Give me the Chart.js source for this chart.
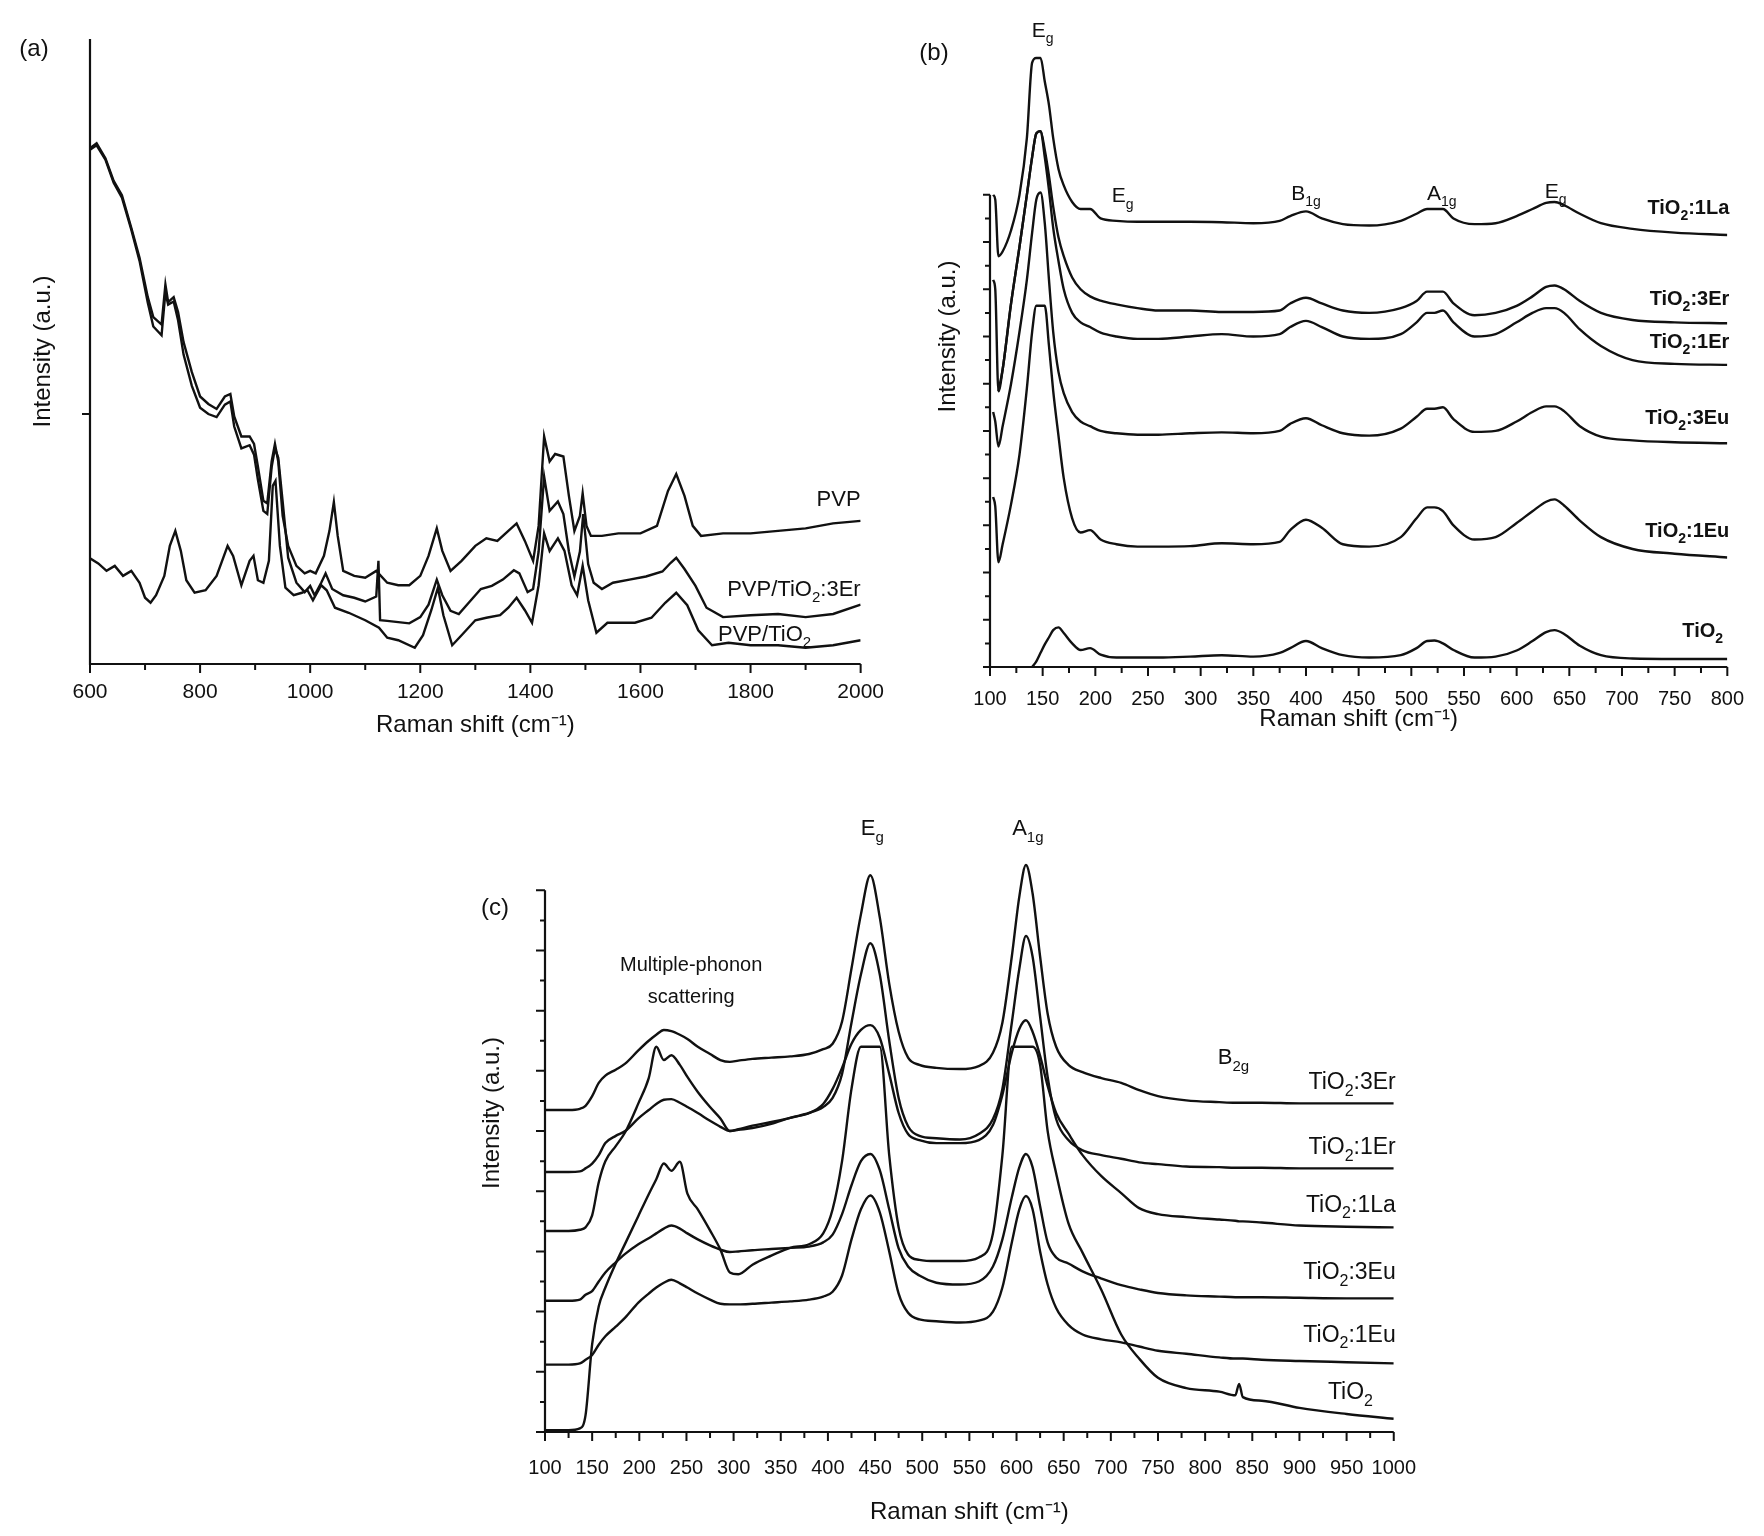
<!DOCTYPE html>
<html lang="en">
<head>
  <meta charset="UTF-8">
  <title>Raman spectra of PVP / TiO2 fibres</title>
  <script src="https://cdn.jsdelivr.net/npm/chart.js"></script>
  <style>
    html, body { margin: 0; padding: 0; background: #fff; }
    body { width: 1764px; height: 1536px; position: relative; overflow: hidden; }
    .panel { position: absolute; }
  </style>
</head>
<body>
  <div class="panel" style="left:0;top:0"><canvas id="chart-a" width="900" height="780"></canvas></div>
  <div class="panel" style="left:880px;top:0"><canvas id="chart-b" width="884" height="780"></canvas></div>
  <div class="panel" style="left:440px;top:780px"><canvas id="chart-c" width="1000" height="756"></canvas></div>

<script>
// ---------- panel (a): PVP and composite fibres, 600-2000 cm-1 ----------
const aPvpX = [600,612,628,643,658,675,690,705,715,730,737,742,752,760,770,785,800,815,830,845,855,862,875,890,898,905,915,922,930,936,942,950,960,975,990,1000,1010,1025,1035,1043,1050,1060,1080,1100,1120,1140,1160,1180,1200,1215,1230,1240,1255,1275,1300,1320,1340,1360,1375,1390,1405,1415,1425,1435,1445,1460,1470,1480,1490,1495,1502,1510,1530,1560,1600,1630,1650,1665,1680,1695,1710,1750,1800,1850,1900,1950,2000];
const aPvpY = [82.5,83.3,80.9,77.3,75.0,69.8,65.0,58.7,55.5,54.3,60.7,57.9,58.7,56.3,51.5,46.7,42.8,41.6,40.8,42.8,43.2,39.6,36.4,36.4,35.2,31.6,26.1,25.7,32.4,35.2,32.4,23.7,18.9,15.7,14.5,14.9,14.5,17.3,21.3,25.9,20.5,14.9,14.1,13.8,14.9,13.0,12.6,12.6,14.1,17.3,21.7,18.1,14.9,16.5,18.9,20.1,19.7,21.3,22.5,19.7,16.5,22.1,36.4,32.4,33.6,33.2,26.9,21.3,23.7,27.3,22.1,20.5,20.5,20.9,20.9,22.1,27.7,30.4,26.9,22.1,20.5,20.9,20.9,21.3,21.7,22.5,22.9];

const a3ErX = [600,612,628,643,658,675,690,705,715,730,737,742,752,760,770,785,800,815,830,845,855,862,875,890,898,905,915,922,930,936,942,950,960,975,990,1000,1008,1020,1028,1040,1060,1080,1100,1120,1124,1127,1140,1160,1180,1200,1215,1230,1240,1255,1270,1290,1310,1330,1350,1370,1380,1395,1405,1415,1425,1435,1450,1460,1470,1480,1490,1496,1505,1515,1530,1550,1580,1610,1640,1655,1665,1680,1700,1720,1750,1800,1850,1900,1950,2000];
const a3ErY = [82.3,83.0,80.7,77.0,74.6,69.5,64.5,57.8,54.0,52.6,59.5,57.5,58.0,55.0,49.5,44.5,41.0,40.0,39.5,41.5,42.0,38.0,34.5,35.0,33.5,29.5,24.5,24.0,31.5,34.5,33.0,26.0,17.0,13.0,11.5,12.5,11.0,13.0,14.5,12.0,11.0,10.6,10.0,10.8,16.5,7.0,6.9,6.7,6.5,7.5,9.5,13.5,11.0,8.5,8.0,10.0,12.0,12.5,13.5,15.0,14.5,11.5,12.0,18.0,30.0,24.5,26.0,24.0,18.0,14.0,18.0,24.0,16.0,13.0,12.0,13.0,13.5,14.0,14.8,16.2,17.0,15.2,12.5,9.0,7.5,7.8,8.0,7.5,8.0,9.5];

const aTio2X = [600,615,630,645,660,675,690,700,710,720,735,745,755,765,775,790,810,830,850,860,875,890,897,905,915,925,932,937,945,955,970,985,995,1005,1020,1030,1045,1070,1100,1125,1140,1160,1190,1205,1220,1232,1242,1258,1275,1300,1320,1345,1360,1375,1390,1403,1415,1425,1435,1450,1462,1475,1485,1495,1505,1520,1540,1560,1590,1620,1645,1665,1685,1705,1730,1760,1800,1850,1900,1950,2000];
const aTio2Y = [16.9,16.1,14.9,15.7,14.1,14.9,13.0,10.6,9.8,11.0,14.1,18.9,21.3,18.1,13.4,11.4,11.8,14.1,18.9,17.3,12.6,16.5,17.3,13.4,13.0,16.5,28.5,29.3,18.9,12.2,11.0,11.4,11.8,10.2,12.6,11.8,9.0,8.2,7.0,5.8,4.2,3.8,2.6,4.6,8.6,12.2,7.8,3.0,4.6,7.0,7.4,7.8,9.0,10.6,8.6,6.6,12.6,20.9,18.1,20.1,18.1,12.6,11.0,15.7,10.2,5.0,6.6,6.6,6.6,7.4,9.8,11.4,9.4,5.4,3.0,3.4,3.0,3.0,2.6,3.0,3.8];

// ---------- panel (b): doped TiO2 fibres, 100-800 cm-1 ----------
const bX = [103,105,108,112,120,128,135,140,144,148,152,156,160,165,170,178,186,195,205,220,240,260,290,320,350,375,385,400,415,435,460,490,505,515,522,530,540,560,580,600,615,628,636,645,660,680,710,750,800];
const b1La = [10.0,9.9,8.7,8.8,9.25,10.0,11.2,12.8,12.9,12.9,12.4,11.9,11.2,10.55,10.2,9.85,9.7,9.7,9.5,9.45,9.43,9.43,9.43,9.42,9.4,9.45,9.55,9.65,9.5,9.38,9.35,9.45,9.6,9.7,9.7,9.7,9.5,9.38,9.4,9.55,9.7,9.83,9.85,9.78,9.6,9.4,9.28,9.2,9.15];
const b3Er = [8.2,8.0,5.84,6.3,7.7,8.9,10.0,10.8,11.3,11.35,10.95,10.4,9.75,9.1,8.7,8.25,8.0,7.85,7.76,7.68,7.6,7.55,7.55,7.52,7.52,7.55,7.7,7.82,7.7,7.55,7.5,7.6,7.75,7.95,7.95,7.95,7.7,7.45,7.5,7.65,7.85,8.05,8.08,8.0,7.75,7.5,7.35,7.3,7.28];
const b1Er = [null,null,5.84,6.3,7.7,8.9,10.0,10.8,11.3,11.35,10.8,10.1,9.3,8.6,8.0,7.5,7.3,7.2,7.08,7.0,6.95,6.95,7.0,7.05,7.0,7.05,7.2,7.33,7.2,7.0,6.95,7.05,7.3,7.5,7.5,7.55,7.3,7.0,7.05,7.3,7.5,7.6,7.6,7.5,7.15,6.8,6.5,6.42,6.4];
const b3Eu = [5.4,5.2,4.67,5.1,6.0,7.1,8.2,9.2,9.9,10.05,9.4,8.2,7.1,6.25,5.8,5.4,5.2,5.1,5.0,4.95,4.92,4.92,4.95,4.97,4.95,5.0,5.15,5.27,5.12,4.95,4.9,5.05,5.3,5.47,5.47,5.5,5.25,4.98,5.0,5.2,5.4,5.52,5.52,5.42,5.1,4.88,4.8,4.76,4.74];
const b1Eu = [3.6,3.4,2.22,2.6,3.45,4.5,5.9,7.1,7.65,7.65,7.65,6.8,5.85,4.9,4.0,3.15,2.85,2.9,2.7,2.6,2.55,2.55,2.56,2.62,2.6,2.65,2.9,3.12,2.95,2.6,2.55,2.75,3.15,3.38,3.38,3.3,3.0,2.7,2.75,3.05,3.3,3.5,3.55,3.42,3.1,2.75,2.5,2.4,2.32];
const bTio2 = [null,null,null,null,null,null,null,0.0,0.12,0.3,0.48,0.63,0.78,0.84,0.72,0.5,0.36,0.4,0.26,0.2,0.2,0.2,0.22,0.25,0.22,0.3,0.4,0.55,0.4,0.25,0.2,0.25,0.4,0.55,0.56,0.5,0.36,0.2,0.22,0.35,0.55,0.74,0.78,0.7,0.45,0.25,0.18,0.17,0.17];

// ---------- panel (c): annealed fibres, 100-1000 cm-1 ----------
const cX = [100,125,137,143,150,157,164,175,185,199,210,218,226,234,243,251,262,275,286,296,305,320,340,360,380,395,405,415,425,435,445,455,465,475,485,497,515,540,560,575,585,595,603,610,617,625,633,642,655,670,690,711,730,750,780,815,832,836,840,860,900,950,1000];
const c3Er = [5.35,5.35,5.37,5.42,5.58,5.8,5.92,6.02,6.12,6.34,6.5,6.6,6.68,6.66,6.6,6.53,6.4,6.28,6.18,6.15,6.17,6.2,6.22,6.24,6.28,6.36,6.45,6.82,7.7,8.6,9.25,8.55,7.45,6.65,6.22,6.1,6.05,6.03,6.08,6.3,6.8,7.9,8.9,9.42,8.95,7.9,6.95,6.4,6.1,5.98,5.88,5.8,5.68,5.58,5.51,5.48,5.47,5.47,5.47,5.47,5.46,5.46,5.46];
const c1Er = [4.32,4.32,4.33,4.38,4.46,4.6,4.8,4.92,5.0,5.21,5.35,5.45,5.52,5.53,5.47,5.4,5.3,5.17,5.07,5.0,5.02,5.05,5.12,5.22,5.3,5.4,5.55,5.95,6.8,7.6,8.12,7.6,6.5,5.55,5.08,4.92,4.88,4.86,4.95,5.2,5.7,6.8,7.7,8.24,7.9,6.9,5.9,5.2,4.85,4.68,4.6,4.54,4.48,4.45,4.41,4.4,4.39,4.39,4.39,4.39,4.38,4.38,4.38];
const c1La = [3.34,3.34,3.36,3.4,3.6,4.15,4.5,4.75,4.98,5.46,5.88,6.4,6.18,6.26,6.1,5.9,5.65,5.4,5.21,5.0,5.03,5.09,5.15,5.22,5.3,5.45,5.7,6.05,6.45,6.68,6.76,6.55,5.95,5.3,4.95,4.85,4.8,4.8,4.85,5.1,5.6,6.3,6.7,6.84,6.65,6.25,5.75,5.3,4.96,4.6,4.25,3.97,3.72,3.62,3.57,3.53,3.51,3.5,3.5,3.48,3.43,3.41,3.40];
const c3Eu = [2.18,2.18,2.2,2.28,2.34,2.5,2.65,2.82,2.96,3.12,3.22,3.3,3.38,3.43,3.38,3.3,3.2,3.1,3.03,2.99,3.0,3.02,3.04,3.06,3.08,3.15,3.28,3.62,4.1,4.5,4.62,4.35,3.7,3.05,2.75,2.6,2.48,2.45,2.5,2.75,3.2,3.9,4.4,4.62,4.4,3.75,3.15,2.9,2.8,2.67,2.55,2.44,2.37,2.31,2.27,2.25,2.24,2.24,2.24,2.24,2.23,2.22,2.22];
const c1Eu = [1.12,1.12,1.14,1.2,1.28,1.45,1.59,1.75,1.9,2.15,2.3,2.4,2.48,2.53,2.47,2.4,2.3,2.2,2.13,2.12,2.12,2.13,2.15,2.17,2.2,2.25,2.33,2.6,3.2,3.7,3.93,3.65,3.0,2.3,1.98,1.87,1.84,1.82,1.85,2.0,2.4,3.15,3.7,3.92,3.7,3.0,2.45,2.06,1.78,1.62,1.54,1.49,1.42,1.35,1.3,1.24,1.22,1.22,1.22,1.2,1.18,1.16,1.14];
const cTio2 = [0.03,0.03,0.06,0.28,1.46,2.09,2.4,2.8,3.13,3.59,3.95,4.2,4.46,4.34,4.49,3.96,3.7,3.35,3.03,2.65,2.62,2.78,2.93,3.06,3.12,3.3,3.7,4.5,5.7,6.4,6.4,6.4,4.6,3.4,2.95,2.86,2.84,2.84,2.9,3.3,4.6,6.4,6.4,6.4,6.4,6.1,5.0,4.3,3.47,2.98,2.36,1.62,1.22,0.9,0.73,0.67,0.61,0.8,0.58,0.52,0.4,0.3,0.22];

const FAMILY = "'Liberation Sans', Arial, sans-serif";
const INK = '#111';
Chart.defaults.font.family = FAMILY;
Chart.defaults.color = INK;

// text with sub/superscripts: segs = [[text, ''|'sub'|'sup'], ...]
function richText(ctx, segs, x, yMid, size, align, weight) {
  const fontFor = k => `${weight || 'normal'} ${k ? Math.round(size * 0.68) : size}px ${FAMILY}`;
  let w = 0;
  segs.forEach(([t, k]) => { ctx.font = fontFor(k); w += ctx.measureText(t).width; });
  let cx = align === 'right' ? x - w : align === 'center' ? x - w / 2 : x;
  const base = yMid + size * 0.36;
  ctx.textAlign = 'left';
  ctx.textBaseline = 'alphabetic';
  ctx.fillStyle = INK;
  segs.forEach(([t, k]) => {
    ctx.font = fontFor(k);
    const dy = k === 'sub' ? size * 0.3 : k === 'sup' ? -size * 0.42 : 0;
    ctx.fillText(t, cx, base + dy);
    cx += ctx.measureText(t).width;
  });
}
const tio = s => [['TiO', ''], ['2', 'sub'], [s, '']];

// axis lines, tick marks and annotations, all placed through the chart's scales
function makeAxes(cfg) {
  return {
    id: 'ramanAxes',
    beforeDatasetsDraw(chart) {
      const { ctx, scales: { x, y } } = chart;
      ctx.save();
      cfg.notes.forEach(n => {
        const px = n.px !== undefined ? n.px : x.getPixelForValue(n.x) + (n.dx || 0);
        const py = n.py !== undefined ? n.py : y.getPixelForValue(n.y);
        richText(ctx, n.segs, px, py, n.size, n.align, n.weight);
      });
      ctx.restore();
    },
    afterDatasetsDraw(chart) {
      const { ctx, chartArea: ca, scales: { x, y } } = chart;
      const y0 = y.getPixelForValue(0);
      ctx.save();
      ctx.strokeStyle = INK;
      ctx.lineWidth = 2.2;
      ctx.beginPath();
      ctx.moveTo(ca.left, y.getPixelForValue(cfg.yTop));
      ctx.lineTo(ca.left, y0);
      ctx.lineTo(ca.right, y0);
      ctx.stroke();
      ctx.lineWidth = 2;
      ctx.beginPath();
      const nX = Math.round((x.max - x.min) / cfg.xMinor);
      for (let i = 0; i <= nX; i++) {
        const v = x.min + i * cfg.xMinor;
        const major = Math.abs((v - x.min) / cfg.xMajor - Math.round((v - x.min) / cfg.xMajor)) < 1e-6;
        const px = x.getPixelForValue(v);
        ctx.moveTo(px, y0);
        ctx.lineTo(px, y0 + (major ? 9 : 6));
      }
      cfg.yTicks.forEach(([v, len]) => {
        const py = y.getPixelForValue(v);
        ctx.moveTo(ca.left, py);
        ctx.lineTo(ca.left - len, py);
      });
      ctx.stroke();
      ctx.restore();
    }
  };
}

function series(xs, ys, smooth) {
  return {
    data: xs.map((x, i) => ({ x, y: ys[i] })),
    borderColor: INK,
    borderWidth: 2.4,
    pointRadius: 0,
    fill: false,
    spanGaps: false,
    tension: 0,
    cubicInterpolationMode: smooth ? 'monotone' : 'default'
  };
}

function buildChart(id, datasets, p, cfg) {
  return new Chart(document.getElementById(id), {
    type: 'line',
    data: { datasets },
    options: {
      responsive: false,
      animation: false,
      events: [],
      layout: { autoPadding: false, padding: p.pad },
      plugins: { legend: { display: false }, tooltip: { enabled: false } },
      scales: {
        x: {
          type: 'linear', min: p.xMin, max: p.xMax,
          afterFit: s => { s.height = p.xH; },
          grid: { display: false, drawTicks: false },
          border: { display: false },
          ticks: {
            stepSize: p.xStep, autoSkip: false, maxRotation: 0, minRotation: 0,
            padding: p.tickPad, color: INK, font: { size: p.tickSize },
            callback: v => String(v)
          },
          title: { display: true, text: 'Raman shift (cm\u207B\u00B9)', color: INK, font: { size: 24 }, padding: 0 }
        },
        y: {
          type: 'linear', min: 0, max: p.yMax,
          afterFit: s => { s.width = p.yW; },
          grid: { display: false, drawTicks: false },
          border: { display: false },
          ticks: { display: false },
          title: { display: true, text: 'Intensity (a.u.)', color: INK, font: { size: 24 }, padding: 0 }
        }
      }
    },
    plugins: [makeAxes(cfg)]
  });
}

function halfTicks(top, majorLen, minorLen) {
  const out = [];
  for (let i = 0; i <= top * 2; i++) out.push([i / 2, i % 2 === 0 ? majorLen : minorLen]);
  return out;
}

// (a)
buildChart('chart-a', [
  series(aPvpX, aPvpY, false),
  series(a3ErX, a3ErY, false),
  series(aTio2X, aTio2Y, false)
], {
  pad: { left: 29, right: 39, top: 39, bottom: 40 },
  xMin: 600, xMax: 2000, xStep: 200, xH: 76, yW: 61, yMax: 100, tickPad: 16, tickSize: 21
}, {
  yTop: 100, xMajor: 200, xMinor: 100,
  yTicks: [[40, 8]],
  notes: [
    { px: 34, py: 47, segs: [['(a)', '']], size: 24, align: 'center' },
    { x: 2000, y: 26.5, segs: [['PVP', '']], size: 22, align: 'right' },
    { x: 2000, y: 12.2, segs: [['PVP/TiO', ''], ['2', 'sub'], [':3Er', '']], size: 22, align: 'right' },
    { x: 1910, y: 5.0, segs: [['PVP/TiO', ''], ['2', 'sub']], size: 22, align: 'right' }
  ]
});

// (b)
buildChart('chart-b', [
  series(bX, b1La, true),
  series(bX, b3Er, true),
  series(bX, b1Er, true),
  series(bX, b3Eu, true),
  series(bX, b1Eu, true),
  series(bX, bTio2, true)
], {
  pad: { left: 54, right: 26, top: 6, bottom: 46 },
  xMin: 100, xMax: 800, xStep: 50, xH: 67, yW: 56, yMax: 14, tickPad: 20, tickSize: 20
}, {
  yTop: 10, xMajor: 50, xMinor: 25,
  yTicks: halfTicks(10, 7, 5),
  notes: [
    { px: 54, py: 51, segs: [['(b)', '']], size: 24, align: 'center' },
    { x: 150, y: 13.5, segs: [['E', ''], ['g', 'sub']], size: 21, align: 'center' },
    { x: 226, y: 10.0, segs: [['E', ''], ['g', 'sub']], size: 21, align: 'center' },
    { x: 400, y: 10.05, segs: [['B', ''], ['1g', 'sub']], size: 21, align: 'center' },
    { x: 529, y: 10.05, segs: [['A', ''], ['1g', 'sub']], size: 21, align: 'center' },
    { x: 637, y: 10.1, segs: [['E', ''], ['g', 'sub']], size: 21, align: 'center' },
    { x: 800, dx: 2, y: 9.75, segs: tio(':1La'), size: 20, align: 'right', weight: 'bold' },
    { x: 800, dx: 2, y: 7.81, segs: tio(':3Er'), size: 20, align: 'right', weight: 'bold' },
    { x: 800, dx: 2, y: 6.9, segs: tio(':1Er'), size: 20, align: 'right', weight: 'bold' },
    { x: 800, dx: 2, y: 5.3, segs: tio(':3Eu'), size: 20, align: 'right', weight: 'bold' },
    { x: 800, dx: 2, y: 2.9, segs: tio(':1Eu'), size: 20, align: 'right', weight: 'bold' },
    { x: 796, dx: 0, y: 0.78, segs: tio(''), size: 20, align: 'right', weight: 'bold' }
  ]
});

// (c)
buildChart('chart-c', [
  series(cX, c3Er, true),
  series(cX, c1Er, true),
  series(cX, c1La, true),
  series(cX, c3Eu, true),
  series(cX, c1Eu, true),
  series(cX, cTio2, true)
], {
  pad: { left: 38, right: 28, top: 14, bottom: 9 },
  xMin: 100, xMax: 1000, xStep: 50, xH: 95, yW: 67, yMax: 10.6, tickPad: 24, tickSize: 20
}, {
  yTop: 9, xMajor: 50, xMinor: 25,
  yTicks: halfTicks(9, 9, 5),
  notes: [
    { px: 55, py: 126, segs: [['(c)', '']], size: 24, align: 'center' },
    { x: 447, y: 10.05, segs: [['E', ''], ['g', 'sub']], size: 22, align: 'center' },
    { x: 612, y: 10.05, segs: [['A', ''], ['1g', 'sub']], size: 22, align: 'center' },
    { x: 830, y: 6.24, segs: [['B', ''], ['2g', 'sub']], size: 22, align: 'center' },
    { x: 255, y: 7.78, segs: [['Multiple-phonon', '']], size: 20, align: 'center' },
    { x: 255, y: 7.24, segs: [['scattering', '']], size: 20, align: 'center' },
    { x: 1000, dx: 2, y: 5.84, segs: tio(':3Er'), size: 23, align: 'right' },
    { x: 1000, dx: 2, y: 4.76, segs: tio(':1Er'), size: 23, align: 'right' },
    { x: 1000, dx: 2, y: 3.8, segs: tio(':1La'), size: 23, align: 'right' },
    { x: 1000, dx: 2, y: 2.68, segs: tio(':3Eu'), size: 23, align: 'right' },
    { x: 1000, dx: 2, y: 1.64, segs: tio(':1Eu'), size: 23, align: 'right' },
    { x: 978, dx: 0, y: 0.68, segs: tio(''), size: 23, align: 'right' }
  ]
});
</script>
</body>
</html>
